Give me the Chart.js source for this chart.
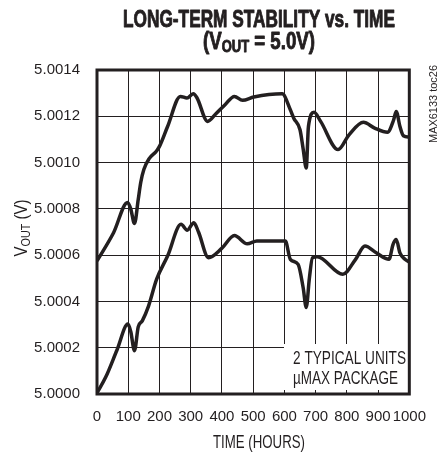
<!DOCTYPE html>
<html lang="en">
<head>
  <meta charset="UTF-8">
  <title>Long-Term Stability vs. Time</title>
  <script src="https://cdn.jsdelivr.net/npm/chart.js"></script>
  <style>
    html, body { margin: 0; padding: 0; background: #fff; }
    #wrap { width: 440px; height: 456px; }
  </style>
</head>
<body>
  <div id="wrap">
    <canvas id="stabilityChart" width="440" height="456"></canvas>
  </div>

  <script>
    // tick labels
    const xTicks = [0, 100, 200, 300, 400, 500, 600, 700, 800, 900, 1000];
    const yTicks = [5.0000, 5.0002, 5.0004, 5.0006, 5.0008, 5.0010, 5.0012, 5.0014];

    // unit 1 (upper trace)
    const unit1Hours = [0, 53, 98, 108, 120, 132, 140, 150, 167, 190, 200, 226, 267, 288, 308, 320, 354, 380, 410, 440,
      466, 502, 593, 619, 630, 650, 660, 670, 677, 695, 716, 772, 807, 853, 889, 930, 950, 958, 970, 981, 1000];
    const unit1Vout = [5.000575, 5.000697, 5.000828, 5.000800, 5.000737, 5.000840, 5.000914, 5.000970, 5.001017, 5.001049,
      5.001070, 5.001156, 5.001286, 5.001279, 5.001297, 5.001280, 5.001178, 5.001210, 5.001250, 5.001286,
      5.001269, 5.001283, 5.001297, 5.001228, 5.001192, 5.001142, 5.001060, 5.000977, 5.001156, 5.001217,
      5.001178, 5.001056, 5.001120, 5.001174, 5.001149, 5.001131, 5.001185, 5.001221, 5.001156, 5.001116, 5.001110];

    // unit 2 (lower trace)
    const unit2Hours = [0, 28, 64, 99, 108, 120, 132, 145, 165, 191, 226, 269, 289, 310, 325, 357, 400, 440, 481, 512,
      603, 619, 644, 660, 670, 680, 690, 705, 787, 828, 858, 894, 935, 948, 958, 970, 986, 1000];
    const unit2Vout = [5.000005, 5.000073, 5.000190, 5.000302, 5.000270, 5.000187, 5.000290, 5.000316, 5.000380, 5.000496,
      5.000596, 5.000733, 5.000708, 5.000740, 5.000700, 5.000589, 5.000630, 5.000685, 5.000649, 5.000661,
      5.000661, 5.000582, 5.000560, 5.000460, 5.000374, 5.000500, 5.000589, 5.000593, 5.000517, 5.000582,
      5.000639, 5.000610, 5.000582, 5.000647, 5.000668, 5.000610, 5.000582, 5.000570];

    const ink = '#231f20';
    const sans = '"Liberation Sans", Arial, sans-serif';

    function toPoints(xs, ys) {
      return xs.map((x, i) => ({ x: x, y: ys[i] }));
    }

    // draws a run of text parts squeezed to a given width (narrow look)
    // parts: [{ text, font, dy }], heavy adds a thin outline
    function fitText(ctx, parts, x, y, width, align, heavy) {
      let total = 0;
      parts.forEach(p => { ctx.font = p.font; total += ctx.measureText(p.text).width; });
      const sx = width / total;
      ctx.save();
      ctx.translate(align === 'center' ? x - width / 2 : x, y);
      ctx.scale(sx, 1);
      ctx.textAlign = 'left';
      ctx.strokeStyle = ink;
      ctx.lineWidth = heavy || 0;
      ctx.lineJoin = 'round';
      let cx = 0;
      parts.forEach(p => {
        ctx.font = p.font;
        ctx.fillText(p.text, cx, p.dy || 0);
        if (heavy) ctx.strokeText(p.text, cx, p.dy || 0);
        cx += ctx.measureText(p.text).width;
      });
      ctx.restore();
    }

    const decorations = {
      id: 'decorations',
      afterDatasetsDraw(chart) {
        const ctx = chart.ctx;
        const a = chart.chartArea;
        ctx.save();
        ctx.textBaseline = 'alphabetic';

        // note box
        ctx.fillStyle = '#fff';
        ctx.fillRect(284, 344, a.right - 284, 46);
        ctx.fillStyle = ink;
        fitText(ctx, [{ text: '2 TYPICAL UNITS', font: '18px ' + sans }], 293, 364, 113, 'left');
        fitText(ctx, [{ text: '\u00B5MAX PACKAGE', font: '18px ' + sans }], 293, 384, 105, 'left');

        // frame
        ctx.strokeStyle = ink;
        ctx.lineWidth = 3;
        ctx.strokeRect(a.left, a.top, a.right - a.left, a.bottom - a.top);

        // title
        const bold = 'bold 23px ' + sans;
        fitText(ctx, [{ text: 'LONG-TERM STABILITY vs. TIME', font: bold }], 259, 26.5, 272, 'center', 0.9);
        fitText(ctx, [
          { text: '(V', font: bold },
          { text: 'OUT', font: 'bold 16px ' + sans, dy: 3 },
          { text: ' = 5.0V)', font: bold }
        ], 259, 49, 112, 'center', 0.9);

        // x axis title
        fitText(ctx, [{ text: 'TIME (HOURS)', font: '18px ' + sans }], 259, 448, 92, 'center');

        // y axis title
        ctx.save();
        ctx.translate(27, 228);
        ctx.rotate(-Math.PI / 2);
        fitText(ctx, [
          { text: 'V', font: '18px ' + sans },
          { text: 'OUT', font: '13px ' + sans, dy: 3 },
          { text: ' (V)', font: '18px ' + sans }
        ], 0, 0, 57, 'center');
        ctx.restore();

        // part note on the right
        ctx.save();
        ctx.translate(437, 104);
        ctx.rotate(-Math.PI / 2);
        fitText(ctx, [{ text: 'MAX6133 toc26', font: '11px ' + sans }], 0, 0, 78, 'center');
        ctx.restore();

        ctx.restore();
      }
    };

    const ctx = document.getElementById('stabilityChart').getContext('2d');
    const lineStyle = {
      borderColor: ink,
      borderWidth: 3.5,
      pointRadius: 0,
      fill: false,
      cubicInterpolationMode: 'monotone'
    };

    new Chart(ctx, {
      type: 'line',
      data: {
        datasets: [
          Object.assign({ label: 'Unit 1', data: toPoints(unit1Hours, unit1Vout) }, lineStyle),
          Object.assign({ label: 'Unit 2', data: toPoints(unit2Hours, unit2Vout) }, lineStyle)
        ]
      },
      options: {
        responsive: false,
        animation: false,
        events: [],
        layout: { padding: { top: 70, right: 18, left: 0, bottom: 0 } },
        plugins: {
          legend: { display: false },
          title: { display: false },
          tooltip: { enabled: false }
        },
        scales: {
          x: {
            type: 'linear',
            min: 0,
            max: 1000,
            afterBuildTicks: s => { s.ticks = xTicks.map(v => ({ value: v })); },
            afterFit: s => { s.height = 62; },
            grid: { color: ink, lineWidth: 1, drawTicks: false },
            border: { display: false },
            ticks: {
              color: ink,
              padding: 14,
              maxRotation: 0,
              autoSkip: false,
              font: { family: sans, size: 15 },
              callback: v => String(v)
            }
          },
          y: {
            type: 'linear',
            min: 5.0,
            max: 5.0014,
            afterBuildTicks: s => { s.ticks = yTicks.map(v => ({ value: v })); },
            afterFit: s => { s.width = 97; },
            grid: { color: ink, lineWidth: 1, drawTicks: false },
            border: { display: false },
            ticks: {
              color: ink,
              padding: 17,
              autoSkip: false,
              font: { family: sans, size: 15 },
              callback: v => Number(v).toFixed(4)
            }
          }
        }
      },
      plugins: [decorations]
    });
  </script>
</body>
</html>
